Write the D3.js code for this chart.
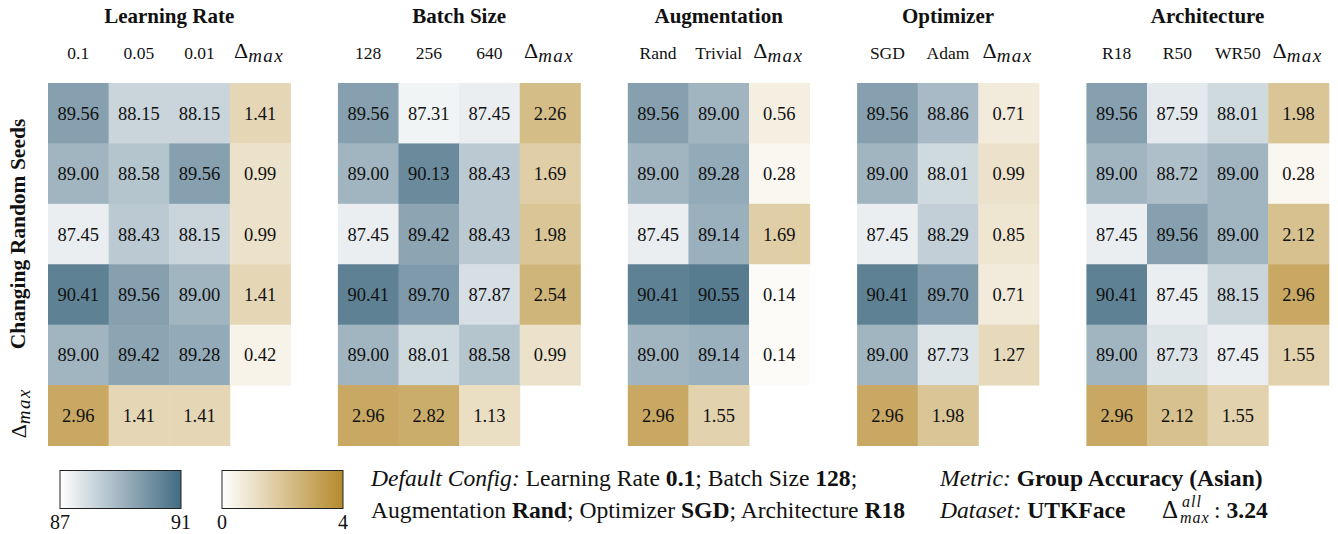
<!DOCTYPE html>
<html><head><meta charset="utf-8">
<script src="https://cdn.jsdelivr.net/npm/d3@7"></script>
<style>
body{margin:0;background:#fff;}
</style></head>
<body>
<svg id="c" width="1338" height="534"></svg>
<script>
// ---- data ----
const groups = ["Learning Rate","Batch Size","Augmentation","Optimizer","Architecture"];
const colsLR = ["0.1","0.05","0.01"];
const colsBS = ["128","256","640"];
const colsAug = ["Rand","Trivial"];
const colsOpt = ["SGD","Adam"];
const colsArch = ["R18","R50","WR50"];
const valsLR = [[89.56,88.15,88.15],[89.00,88.58,89.56],[87.45,88.43,88.15],[90.41,89.56,89.00],[89.00,89.42,89.28]];
const valsBS = [[89.56,87.31,87.45],[89.00,90.13,88.43],[87.45,89.42,88.43],[90.41,89.70,87.87],[89.00,88.01,88.58]];
const valsAug = [[89.56,89.00],[89.00,89.28],[87.45,89.14],[90.41,90.55],[89.00,89.14]];
const valsOpt = [[89.56,88.86],[89.00,88.01],[87.45,88.29],[90.41,89.70],[89.00,87.73]];
const valsArch = [[89.56,87.59,88.01],[89.00,88.72,89.00],[87.45,89.56,89.00],[90.41,87.45,88.15],[89.00,87.73,87.45]];
const dColLR = [1.41,0.99,0.99,1.41,0.42];
const dColBS = [2.26,1.69,1.98,2.54,0.99];
const dColAug = [0.56,0.28,1.69,0.14,0.14];
const dColOpt = [0.71,0.99,0.85,0.71,1.27];
const dColArch = [1.98,0.28,2.12,2.96,1.55];
const dRowLR = [2.96,1.41,1.41];
const dRowBS = [2.96,2.82,1.13];
const dRowAug = [2.96,1.55];
const dRowOpt = [2.96,1.98];
const dRowArch = [2.96,2.12,1.55];
const accDomain = [87,91];
const deltaDomain = [0,4];
const deltaAll = "3.24";

const panels = [
  {name:groups[0], cols:colsLR, vals:valsLR, dCol:dColLR, dRow:dRowLR},
  {name:groups[1], cols:colsBS, vals:valsBS, dCol:dColBS, dRow:dRowBS},
  {name:groups[2], cols:colsAug, vals:valsAug, dCol:dColAug, dRow:dRowAug},
  {name:groups[3], cols:colsOpt, vals:valsOpt, dCol:dColOpt, dRow:dRowOpt},
  {name:groups[4], cols:colsArch, vals:valsArch, dCol:dColArch, dRow:dRowArch}
];

const svg = d3.select("#c");
const blue = d3.scaleLinear().domain(accDomain).range(["#ffffff","#426b82"]).interpolate(d3.interpolateRgb).clamp(true);
const gold = d3.scaleLinear().domain(deltaDomain).range(["#ffffff","#b48a2c"]).interpolate(d3.interpolateRgb).clamp(true);

const cellW = 60.6, gap = 47.5, x0 = 48;
const y = d3.scaleBand().domain(d3.range(6)).range([83,445.5]);

function deltaLabel(sel){
  sel.append("tspan").text("Δ").style("font-size","22px");
  sel.append("tspan").text("max").attr("dy",4).style("font-style","italic")
    .style("font-size","19px").style("letter-spacing","1.4px");
}

let cx = x0;
panels.forEach(p=>{
  const ncol = p.cols.length + 1;
  const x = d3.scaleBand().domain(d3.range(ncol)).range([cx, cx + ncol*cellW]);
  const g = svg.append("g");
  const cells = [];
  p.vals.forEach((row,r)=>{
    row.forEach((v,c)=>cells.push({r,c,v,fill:blue(v)}));
    cells.push({r,c:p.cols.length,v:p.dCol[r],fill:gold(p.dCol[r])});
  });
  p.dRow.forEach((v,c)=>cells.push({r:5,c,v,fill:gold(v)}));
  g.selectAll("rect").data(cells).join("rect")
    .attr("x",d=>x(d.c)).attr("y",d=>y(d.r))
    .attr("width",x.bandwidth()+0.5).attr("height",y.bandwidth()+0.5)
    .attr("fill",d=>d.fill);
  g.selectAll("text.v").data(cells).join("text").attr("class","v")
    .attr("x",d=>x(d.c)+x.bandwidth()/2).attr("y",d=>y(d.r)+y.bandwidth()/2+6.5)
    .attr("text-anchor","middle").style("font-size","18.5px")
    .text(d=>d.v.toFixed(2));
  g.selectAll("text.cl").data(p.cols).join("text").attr("class","cl")
    .attr("x",(d,i)=>x(i)+x.bandwidth()/2).attr("y",59)
    .attr("text-anchor","middle").style("font-size","17.5px").text(d=>d);
  const dl = g.append("text").attr("x",x(p.cols.length)+x.bandwidth()/2-1).attr("y",58)
    .attr("text-anchor","middle");
  deltaLabel(dl);
  g.append("text").attr("x",cx + ncol*cellW/2).attr("y",23).attr("text-anchor","middle")
    .style("font-size","21px").style("font-weight","bold").text(p.name);
  cx += ncol*cellW + gap;
});

svg.append("text").attr("transform",`translate(25,${(y(0)+y(4)+y.bandwidth())/2}) rotate(-90)`)
  .attr("text-anchor","middle").style("font-size","21.5px").style("font-weight","bold")
  .text("Changing Random Seeds");
const yl = svg.append("text").attr("transform",`translate(26,${y(5)+y.bandwidth()/2-2}) rotate(-90)`)
  .attr("text-anchor","middle");
deltaLabel(yl);

const defs = svg.append("defs");
function colorbar(id, scale, domain, xl, xr){
  const grad = defs.append("linearGradient").attr("id",id);
  d3.range(0,1.0001,0.1).forEach(t=>grad.append("stop").attr("offset",t)
    .attr("stop-color",scale(domain[0]+t*(domain[1]-domain[0]))));
  svg.append("rect").attr("x",xl).attr("y",470.5).attr("width",xr-xl).attr("height",38)
    .attr("fill",`url(#${id})`).attr("stroke","#222").attr("stroke-width",1);
  const ax = d3.scaleLinear().domain(domain).range([xl,xr]);
  svg.selectAll(null).data(domain).join("text").attr("x",d=>ax(d)).attr("y",529)
    .attr("text-anchor","middle").style("font-size","20px").text(d=>d);
}
colorbar("gb", blue, accDomain, 60, 181);
colorbar("gg", gold, deltaDomain, 222, 343);

const fs = "23.6px";
function line(xp, yp, parts){
  const t = svg.append("text").attr("x",xp).attr("y",yp).style("font-size",fs);
  parts.forEach(([s,st])=>{
    const ts = t.append("tspan").text(s);
    if(st==="i") ts.style("font-style","italic");
    if(st==="b") ts.style("font-weight","bold");
  });
  return t;
}
line(371,486,[["Default Config:","i"],[" Learning Rate ",""],["0.1","b"],["; Batch Size ",""],["128","b"],[";",""]]);
line(371,518,[["Augmentation ",""],["Rand","b"],["; Optimizer ",""],["SGD","b"],["; Architecture ",""],["R18","b"]]);
line(940,486,[["Metric:","i"],[" ",""],["Group Accuracy (Asian)","b"]]);
line(940,518,[["Dataset:","i"],[" ",""],["UTKFace","b"]]);
svg.append("text").attr("x",1162).attr("y",518).style("font-size","25px").text("Δ");
svg.append("text").attr("x",1182).attr("y",507).style("font-size","16px").style("font-style","italic").style("letter-spacing","1px").text("all");
svg.append("text").attr("x",1180).attr("y",523).style("font-size","16px").style("font-style","italic").style("letter-spacing","1px").text("max");
svg.append("text").attr("x",1214).attr("y",518).style("font-size",fs)
  .call(t=>{t.append("tspan").text(": "); t.append("tspan").text(deltaAll).style("font-weight","bold");});

svg.selectAll("text").attr("font-family","Liberation Serif").attr("fill","#111");
</script>
</body></html>
